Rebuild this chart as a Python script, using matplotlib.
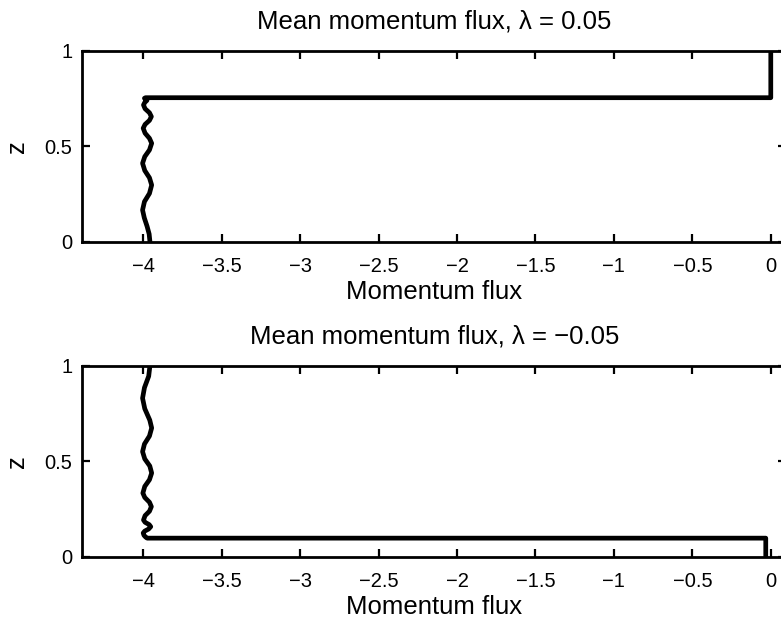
import numpy as np
import matplotlib
matplotlib.use("Agg")
import matplotlib.pyplot as plt

plt.rcParams['font.family'] = ['Liberation Sans', 'DejaVu Sans']

# top panel, lambda = 0.05 : wiggly profile near -4 up to z~0.75, then jump to 0
top_flux = [-3.957, -3.962, -3.975, -3.993, -4.004, -3.992, -3.960, -3.946, -3.960, -3.990,
            -4.004, -3.990, -3.960, -3.946, -3.960, -3.988, -4.000, -3.988, -3.960, -3.948,
            -3.960, -3.988, -3.998, -3.990, -3.976, -3.992, -3.985,
            0.0, 0.0]
top_z = [0.000, 0.040, 0.080, 0.125, 0.166, 0.210, 0.253, 0.297, 0.335, 0.373,
         0.411, 0.446, 0.481, 0.516, 0.542, 0.569, 0.595, 0.615, 0.636, 0.656,
         0.676, 0.697, 0.717, 0.730, 0.741, 0.752, 0.755,
         0.755, 1.0]

# bottom panel, lambda = -0.05 : wiggly profile from z=1 down to z~0.1, then jump to 0
bot_flux = [-3.957, -3.965, -3.992, -4.004, -3.990, -3.958, -3.946, -3.960, -3.992, -4.004,
            -3.990, -3.958, -3.946, -3.960, -3.990, -4.002, -3.990, -3.960, -3.948, -3.960,
            -3.988, -3.998, -3.988, -3.962, -3.952, -3.965, -3.990, -4.000, -3.995, -3.985,
            -3.975, -0.032, -0.032]
bot_z = [1.000, 0.945, 0.885, 0.830, 0.775, 0.715, 0.674, 0.632, 0.590, 0.550,
         0.512, 0.475, 0.438, 0.403, 0.368, 0.333, 0.310, 0.285, 0.262, 0.238,
         0.215, 0.192, 0.180, 0.168, 0.157, 0.145, 0.134, 0.124, 0.112, 0.103,
         0.097, 0.097, 0.0]

xticks = [-4, -3.5, -3, -2.5, -2, -1.5, -1, -0.5, 0]
xtick_labels = ['\u22124', '\u22123.5', '\u22123', '\u22122.5', '\u22122', '\u22121.5', '\u22121', '\u22120.5', '0']
yticks = [0, 0.5, 1]
ytick_labels = ['0', '0.5', '1']

titles = ['Mean momentum flux, \u03bb = 0.05', 'Mean momentum flux, \u03bb = \u22120.05']

fig = plt.figure(figsize=(7.81, 6.24), dpi=100)
ax1 = fig.add_axes([0.105, 0.6127, 0.902, 0.3056])
ax2 = fig.add_axes([0.105, 0.1079, 0.902, 0.306])

for ax, fx, zz, tt in [(ax1, top_flux, top_z, titles[0]), (ax2, bot_flux, bot_z, titles[1])]:
    ax.plot(fx, zz, color='black', lw=3.4, solid_joinstyle='round', solid_capstyle='round')
    ax.set_xlim(-4.39, 0.1)
    ax.set_ylim(0, 1)
    ax.set_xticks(xticks)
    ax.set_xticklabels(xtick_labels)
    ax.set_yticks(yticks)
    ax.set_yticklabels(ytick_labels)
    ax.tick_params(direction='in', length=5.5, width=1.6, top=True, right=True,
                   labelsize=14.5)
    ax.tick_params(axis='x', pad=11)
    ax.tick_params(axis='y', pad=7)
    for s in ax.spines.values():
        s.set_linewidth(2.0)
    ax.set_xlabel('Momentum flux', fontsize=18.5, labelpad=3)
    ax.set_ylabel('z', fontsize=18.5, labelpad=11)
    ax.set_title(tt, fontsize=18.5, pad=16)

fig.savefig('out.png', dpi=100)
